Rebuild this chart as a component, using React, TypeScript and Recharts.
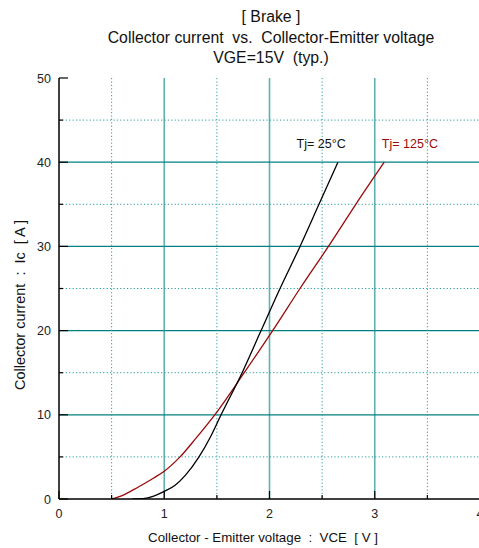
import React from "react";
import {
  LineChart,
  Line,
  XAxis,
  YAxis,
  CartesianGrid,
  ReferenceDot,
} from "recharts";

// Tj = 25°C curve (VCE [V], Ic [A])
const vce25 = [0.7, 0.8, 0.9, 1.0, 1.1, 1.2, 1.33, 1.44, 1.54, 1.74, 1.92, 2.1, 2.29, 2.47, 2.65];
const ic25 = [0, 0.05, 0.35, 0.9, 1.6, 2.8, 5.0, 7.4, 10.0, 15.0, 20, 25, 30, 35, 40];

// Tj = 125°C curve
const vce125 = [0.5, 0.6, 0.75, 0.9, 1.0, 1.15, 1.3, 1.48, 1.76, 2.03, 2.29, 2.56, 2.82, 3.09];
const ic125 = [0, 0.4, 1.4, 2.5, 3.3, 5.0, 7.2, 10.0, 15.0, 20, 25, 30, 35, 40];

const xTicks = [0, 0.5, 1, 1.5, 2, 2.5, 3, 3.5, 4];
const yTicks = [0, 5, 10, 15, 20, 25, 30, 35, 40, 45, 50];
const xMajor = [1, 2, 3];
const xMinor = [0.5, 1.5, 2.5, 3.5];
const yMajor = [10, 20, 30, 40];
const yMinor = [5, 15, 25, 35, 45];

const titleLines = ["[ Brake ]", "Collector current  vs.  Collector-Emitter voltage", "VGE=15V  (typ.)"];

const toPoints = (xs: number[], ys: number[]) => xs.map((x, i) => ({ x, y: ys[i] }));
const data25 = toPoints(vce25, ic25);
const data125 = toPoints(vce125, ic125);

const FONT = "'Liberation Sans', Arial, sans-serif";
const TEAL = "#008080";
const RED = "#9a0a0a";

const isMajor = (v: number, step: number) => Math.abs(v / step - Math.round(v / step)) < 1e-6;

const BottomTick = ({ x, y, payload }: any) => {
  const major = isMajor(payload.value, 1);
  return (
    <g>
      <line x1={x} x2={x} y1={y} y2={y - (major ? 8 : 4)} stroke="#000" strokeWidth={1.2} />
      {major && (
        <text x={x} y={y + 19} textAnchor="middle" fontSize={12.5} fill="#222" fontFamily={FONT}>
          {payload.value}
        </text>
      )}
    </g>
  );
};

const TopTick = ({ x, y, payload }: any) => {
  const major = isMajor(payload.value, 1);
  return <line x1={x} x2={x} y1={y} y2={y + (major ? 8 : 4)} stroke="#000" strokeWidth={1.2} />;
};

const LeftTick = ({ x, y, payload }: any) => {
  const major = isMajor(payload.value, 10);
  return (
    <g>
      <line x1={x} x2={x + (major ? 9 : 4)} y1={y} y2={y} stroke="#000" strokeWidth={1.2} />
      {major && (
        <text x={x - 8} y={y + 4.5} textAnchor="end" fontSize={12.5} fill="#222" fontFamily={FONT}>
          {payload.value}
        </text>
      )}
    </g>
  );
};

const RightTick = ({ x, y, payload }: any) => {
  const major = isMajor(payload.value, 10);
  return <line x1={x} x2={x - (major ? 9 : 4)} y1={y} y2={y} stroke="#000" strokeWidth={1.2} />;
};

export default function App() {
  return (
    <div
      style={{
        position: "fixed",
        left: 0,
        top: 0,
        width: 479,
        height: 548,
        overflow: "hidden",
        background: "#fff",
        fontFamily: FONT,
      }}
    >
      <svg width={479} height={70} style={{ position: "absolute", left: 0, top: 0 }}>
        {titleLines.map((t, i) => (
          <text
            key={i}
            x={271}
            y={22 + i * 20.5}
            textAnchor="middle"
            fontSize={15.8}
            fill="#111"
            fontFamily={FONT}
            style={{ whiteSpace: "pre" }}
          >
            {t}
          </text>
        ))}
      </svg>
      <div style={{ position: "absolute", left: 0, top: 0 }}>
        <LineChart width={500} height={548} margin={{ top: 78, right: 20, left: 0, bottom: 0 }}>
          <CartesianGrid horizontal={false} verticalValues={xMajor} stroke="#5fb0b0" strokeWidth={1.6} />
          <CartesianGrid vertical={false} horizontalValues={yMajor} stroke={TEAL} strokeWidth={1.2} />
          <CartesianGrid
            verticalValues={xMinor}
            horizontalValues={yMinor}
            stroke="#2a9d9d"
            strokeDasharray="1.2 2.2"
            strokeWidth={1}
          />
          <XAxis
            type="number"
            dataKey="x"
            domain={[0, 4]}
            ticks={xTicks}
            interval={0}
            height={49}
            tickSize={0}
            tickMargin={0}
            tickLine={false}
            axisLine={{ stroke: "#000", strokeWidth: 1.5 }}
            tick={<BottomTick />}
            allowDataOverflow
          />
          <XAxis
            xAxisId="top"
            orientation="top"
            type="number"
            domain={[0, 4]}
            ticks={xTicks}
            interval={0}
            height={0}
            tickSize={0}
            tickMargin={0}
            tickLine={false}
            axisLine={{ stroke: "#000", strokeWidth: 1.5 }}
            tick={<TopTick />}
          />
          <YAxis
            type="number"
            domain={[0, 50]}
            ticks={yTicks}
            interval={0}
            width={59}
            tickSize={0}
            tickMargin={0}
            tickLine={false}
            axisLine={{ stroke: "#000", strokeWidth: 1.5 }}
            tick={<LeftTick />}
            allowDataOverflow
          />
          <YAxis
            yAxisId="right"
            orientation="right"
            type="number"
            domain={[0, 50]}
            ticks={yTicks}
            interval={0}
            width={0}
            tickSize={0}
            tickMargin={0}
            tickLine={false}
            axisLine={{ stroke: "#000", strokeWidth: 1.5 }}
            tick={<RightTick />}
          />
          <Line
            data={data125}
            dataKey="y"
            type="monotone"
            stroke={RED}
            strokeWidth={1.3}
            dot={false}
            isAnimationActive={false}
          />
          <Line
            data={data25}
            dataKey="y"
            type="monotone"
            stroke="#000"
            strokeWidth={1.3}
            dot={false}
            isAnimationActive={false}
          />
          <ReferenceDot
            x={2.21}
            y={42.2}
            r={0}
            stroke="none"
            label={{ value: "Tj= 25°C", position: "right", fontSize: 12.5, fill: "#111", fontFamily: FONT }}
          />
          <ReferenceDot
            x={3.02}
            y={42.2}
            r={0}
            stroke="none"
            label={{ value: "Tj= 125°C", position: "right", fontSize: 12.5, fill: RED, fontFamily: FONT }}
          />
        </LineChart>
      </div>
      <div
        style={{
          position: "absolute",
          left: 0,
          top: 530,
          width: 526,
          textAlign: "center",
          fontSize: 13.3,
          color: "#111",
          whiteSpace: "pre",
        }}
      >
        {"Collector - Emitter voltage  :  VCE  [ V ]"}
      </div>
      <div
        style={{
          position: "absolute",
          left: 20,
          top: 305,
          transform: "translate(-50%, -50%) rotate(-90deg)",
          fontSize: 14.5,
          color: "#111",
          whiteSpace: "pre",
        }}
      >
        {"Collector current  :  Ic  [ A ]"}
      </div>
    </div>
  );
}
